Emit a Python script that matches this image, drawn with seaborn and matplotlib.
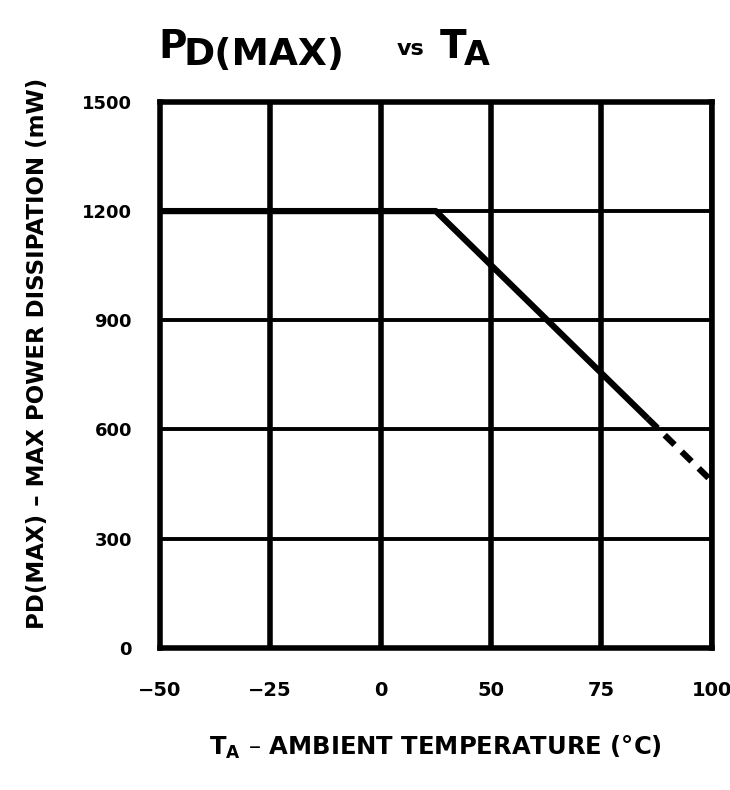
import numpy as np
import pandas as pd
import matplotlib
matplotlib.use("Agg")
import matplotlib.pyplot as plt
import seaborn as sns

# values (x in grid units, 25 per division)
temp_solid = [-50, 12.5, 60.5]
power_solid = [1200, 1200, 630]
temp_dashed = [60.5, 75]
power_dashed = [630, 458]

x_ticks = [-50, -25, 0, 25, 50, 75]
x_labels = ["\u221250", "\u221225", "0", "50", "75", "100"]
y_ticks = [0, 300, 600, 900, 1200, 1500]
y_labels = ["0", "300", "600", "900", "1200", "1500"]

sns.set_style("white")
plt.rcParams['font.family'] = ['DejaVu Sans']
plt.rcParams['font.weight'] = 'bold'
plt.rcParams['text.color'] = 'black'
plt.rcParams['axes.labelcolor'] = 'black'
plt.rcParams['xtick.color'] = 'black'
plt.rcParams['ytick.color'] = 'black'

fig = plt.figure(figsize=(7.3, 7.9), dpi=100)
ax = fig.add_axes([0.219, 0.18, 0.756, 0.691])

solid = pd.DataFrame({"t": temp_solid, "p": power_solid})
dashed = pd.DataFrame({"t": temp_dashed, "p": power_dashed})
sns.lineplot(data=solid, x="t", y="p", ax=ax, color="black", linewidth=4.5,
             solid_capstyle="butt", zorder=5)
sns.lineplot(data=dashed, x="t", y="p", ax=ax, color="black", linewidth=4.5,
             linestyle=(0, (2.2, 1.6)), zorder=5)

ax.set_xlim(-50, 75)
ax.set_ylim(0, 1500)
ax.set_xticks(x_ticks)
ax.set_xticklabels(x_labels, fontsize=14, fontweight='bold')
ax.set_yticks(y_ticks)
ax.set_yticklabels(y_labels, fontsize=13, fontweight='bold')
ax.tick_params(axis="x", length=0, pad=24)
ax.tick_params(axis="y", length=0, pad=20)

# heavy datasheet grid
for x in x_ticks[1:]:
    ax.axvline(x, color="black", linewidth=4, zorder=2)
for y in y_ticks[1:-1]:
    ax.axhline(y, color="black", linewidth=2.8, zorder=2)
for s in ax.spines.values():
    s.set_visible(True)
    s.set_color("black")
    s.set_linewidth(4)

ax.set_xlabel("T$_\\mathbf{A}$ \u2013 AMBIENT TEMPERATURE (\u00b0C)",
              fontsize=17.5, fontweight='bold', labelpad=24)
ax.set_ylabel("PD(MAX) \u2013 MAX POWER DISSIPATION (mW)", fontsize=16.5,
              fontweight='bold')
ax.yaxis.set_label_coords(-0.2, 0.54)

# title built from pieces, like the datasheet lettering
fig.text(0.217, 0.927, "P", fontsize=28, fontweight='bold', va="baseline", ha="left")
fig.text(0.252, 0.918, "D(MAX)", fontsize=27, fontweight='bold', va="baseline", ha="left")
fig.text(0.543, 0.930, "vs", fontsize=16, fontweight='bold', va="baseline", ha="left")
fig.text(0.603, 0.927, "T", fontsize=28, fontweight='bold', va="baseline", ha="left")
fig.text(0.636, 0.918, "A", fontsize=24, fontweight='bold', va="baseline", ha="left")

fig.savefig("out.png", dpi=100)
